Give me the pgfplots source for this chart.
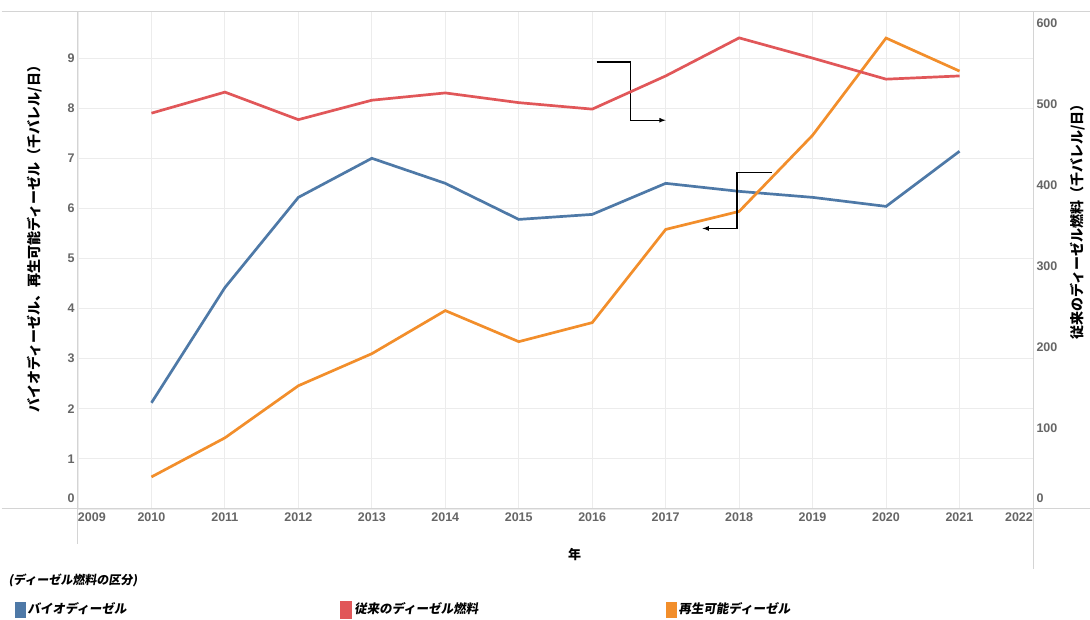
\documentclass[border=0pt]{standalone}
\usepackage{pgfplots}
\pgfplotsset{compat=1.18}
\usepackage{fontspec}
\setmainfont{Liberation Sans}
\newfontfamily\jp{Noto Sans CJK JP}
\newfontfamily\jpi{Noto Sans CJK JP}[FakeSlant=0.15]
\definecolor{cblue}{HTML}{4E79A7}
\definecolor{cred}{HTML}{E15759}
\definecolor{corange}{HTML}{F28E2B}
\definecolor{tickgray}{HTML}{666666}
\definecolor{gridgray}{HTML}{ECECEC}
\definecolor{framegray}{HTML}{D4D4D4}
\begin{document}
\begin{tikzpicture}
\pgfplotsset{
  common/.style={
    scale only axis, width=955pt, height=497pt,
    xmin=2009, xmax=2022,
    tick style={draw=none},
    tick label style={font=\fontsize{12.5}{14}\selectfont\bfseries, text=tickgray},
    /pgf/number format/assume math mode=true,
    clip=false,
  }
}
\begin{axis}[common,
  ymin=0, ymax=9.92,
  axis line style={framegray, line width=1pt},
  xtick pos=bottom, ytick pos=left,
  xtick={2009,...,2022},
  xticklabels={\makebox[0pt][l]{2009},2010,2011,2012,2013,2014,2015,2016,2017,2018,2019,2020,2021,\makebox[0pt][r]{2022}},
  ytick={1,...,9},
  extra y ticks={0},
  extra y tick style={yticklabel style={yshift=11pt}},
  grid=major, grid style={gridgray, line width=0.8pt},
  xlabel={\jp\bfseries 年},
  xlabel style={at={(rel axis cs:0.52,0)}, anchor=center, yshift=-46pt, font=\fontsize{13}{15}\selectfont},
  ylabel={\jp\bfseries バイオディーゼル、再生可能ディーゼル（千バレル/日）},
  ylabel style={at={(rel axis cs:0,0.55)}, anchor=center, yshift=43pt, font=\fontsize{14}{16}\selectfont},
]
\addplot[cblue, line width=2.7pt] coordinates {
 (2010,2.12) (2011,4.42) (2012,6.22) (2013,7.0) (2014,6.5) (2015,5.78)
 (2016,5.88) (2017,6.5) (2018,6.34) (2019,6.22) (2020,6.04) (2021,7.14)};
\addplot[corange, line width=2.7pt] coordinates {
 (2010,0.64) (2011,1.42) (2012,2.46) (2013,3.1) (2014,3.96) (2015,3.34)
 (2016,3.72) (2017,5.58) (2018,5.94) (2019,7.46) (2020,9.4) (2021,8.74)};
% annotation brackets
\draw[black, line width=1.2pt, -latex] (axis cs:2016.06,8.92) -- (axis cs:2016.52,8.92) -- (axis cs:2016.52,7.76) -- (axis cs:2017.0,7.76);
\draw[black, line width=1.2pt, -latex] (axis cs:2018.45,6.72) -- (axis cs:2017.97,6.72) -- (axis cs:2017.97,5.6) -- (axis cs:2017.5,5.6);
% frame extensions
\draw[framegray, line width=1pt] (rel axis cs:-0.08,1) -- (rel axis cs:1.06,1);
\draw[framegray, line width=1pt] (rel axis cs:-0.08,0) -- (rel axis cs:1.06,0);
\draw[framegray, line width=1pt] (rel axis cs:0,0) -- (rel axis cs:0,-0.07);
\draw[framegray, line width=1pt] (rel axis cs:1,0) -- (rel axis cs:1,-0.12);
\node[anchor=west, font=\jpi\bfseries\fontsize{12}{14}\selectfont] at (rel axis cs:-0.0764,-0.143) {(ディーゼル燃料の区分)};
\coordinate (bl) at (rel axis cs:0,0);
\coordinate (tr) at (rel axis cs:1,1);
\end{axis}
\begin{axis}[common,
  ymin=0, ymax=614,
  axis x line=none, axis y line*=right,
  axis line style={draw=none},
  ytick={100,200,...,600},
  extra y ticks={0},
  extra y tick style={yticklabel style={yshift=11pt}},
  ylabel={\jp\bfseries 従来のディーゼル燃料（千バレル/日）},
  ylabel style={at={(rel axis cs:1,0.585)}, anchor=center, yshift=-45pt, font=\fontsize{14}{16}\selectfont},
  legend columns=3,
  legend style={draw=none, fill=none, at={(rel axis cs:-0.066,-0.183)}, anchor=north west,
    font=\jpi\bfseries\fontsize{12.5}{14}\selectfont, inner sep=0pt,
    /tikz/every even column/.append style={column sep=0pt}},
  legend image code/.code={\fill[#1] (0pt,-9pt) rectangle (10pt,6pt);},
]
\addlegendimage{cblue}
\addlegendentry{\makebox[310pt][l]{バイオディーゼル}}
\addplot[cred, line width=2.7pt] coordinates {
 (2010,489) (2011,515) (2012,481) (2013,505) (2014,514) (2015,502)
 (2016,494) (2017,535) (2018,582) (2019,557) (2020,531) (2021,535)};
\addlegendentry{\makebox[310pt][l]{従来のディーゼル燃料}}
\addlegendimage{corange}
\addlegendentry{再生可能ディーゼル}
\end{axis}
\pgfresetboundingbox
\path ([shift={(-78pt,-111pt)}]bl) rectangle ([shift={(57pt,12pt)}]tr);
\end{tikzpicture}
\end{document}
